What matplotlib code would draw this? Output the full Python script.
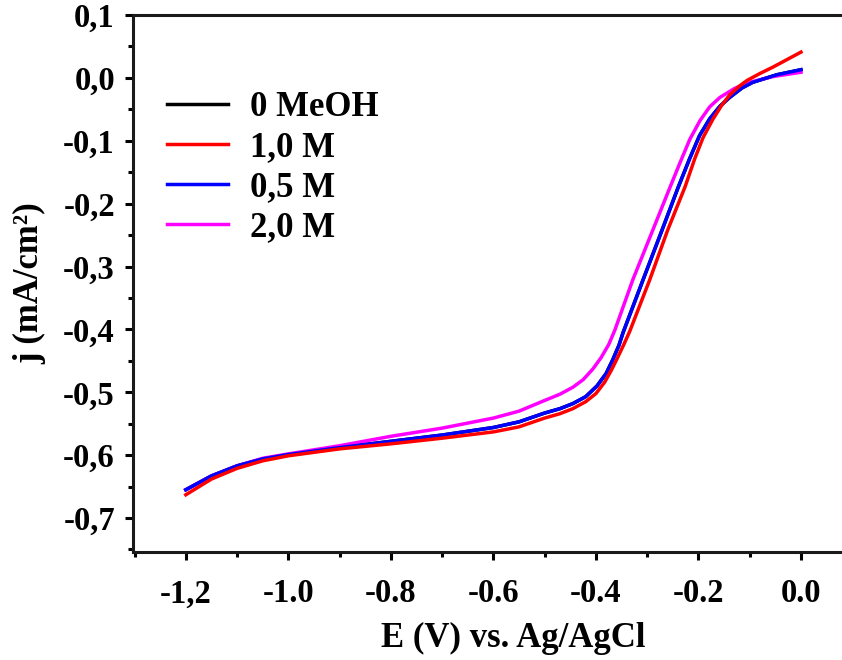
import matplotlib.pyplot as plt
from matplotlib.ticker import FixedLocator, MultipleLocator

plt.rcParams['font.family'] = ['Liberation Serif', 'DejaVu Serif']
plt.rcParams['font.weight'] = 'bold'

# LSV curves: E (V vs Ag/AgCl) and j (mA/cm2)
e_red = [-1.2, -1.15, -1.1, -1.05, -1.0, -0.9, -0.8, -0.7, -0.6, -0.55, -0.5,
         -0.47, -0.445, -0.42, -0.4, -0.383, -0.37, -0.359, -0.345, -0.334,
         -0.295, -0.26, -0.226, -0.207, -0.191, -0.172, -0.155, -0.139, -0.12,
         -0.105, -0.08, -0.055, 0.0]
j_red = [-0.663, -0.638, -0.621, -0.609, -0.601, -0.590, -0.582, -0.573, -0.563,
         -0.555, -0.541, -0.534, -0.526, -0.515, -0.502, -0.484, -0.465, -0.447,
         -0.423, -0.403, -0.321, -0.242, -0.173, -0.128, -0.095, -0.066, -0.044,
         -0.027, -0.013, -0.004, 0.007, 0.017, 0.041]

e_blue = [-1.2, -1.15, -1.1, -1.05, -1.0, -0.9, -0.8, -0.7, -0.6, -0.55, -0.5,
          -0.47, -0.445, -0.42, -0.398, -0.38, -0.367, -0.355, -0.347, -0.308,
          -0.271, -0.24, -0.217, -0.198, -0.178, -0.158, -0.139, -0.115, -0.094,
          -0.047, 0.0]
j_blue = [-0.655, -0.633, -0.617, -0.606, -0.599, -0.588, -0.578, -0.568, -0.556,
          -0.547, -0.533, -0.526, -0.518, -0.507, -0.490, -0.470, -0.448, -0.425,
          -0.405, -0.321, -0.242, -0.175, -0.128, -0.092, -0.065, -0.045, -0.031,
          -0.016, -0.007, 0.005, 0.013]

# the 0 MeOH trace sits under the 0,5 M one in the original
e_black = e_blue
j_black = j_blue

e_mag = [-1.2, -1.15, -1.1, -1.05, -1.0, -0.9, -0.8, -0.7, -0.6, -0.55, -0.5,
         -0.47, -0.445, -0.425, -0.406, -0.39, -0.375, -0.363, -0.328, -0.289,
         -0.256, -0.236, -0.217, -0.197, -0.178, -0.158, -0.13, -0.105, -0.055,
         0.0]
j_mag = [-0.655, -0.633, -0.617, -0.605, -0.598, -0.585, -0.570, -0.557, -0.541,
         -0.530, -0.513, -0.503, -0.492, -0.480, -0.463, -0.445, -0.424, -0.401,
         -0.321, -0.242, -0.175, -0.135, -0.098, -0.068, -0.046, -0.031, -0.017,
         -0.008, 0.002, 0.009]

x_ticks = [-1.2, -1.0, -0.8, -0.6, -0.4, -0.2, 0.0]
x_labels = ['-1,2', '-1.0', '-0.8', '-0.6', '-0.4', '-0.2', '0.0']
y_ticks = [0.1, 0.0, -0.1, -0.2, -0.3, -0.4, -0.5, -0.6, -0.7]
y_labels = ['0,1', '0,0', '-0,1', '-0,2', '-0,3', '-0,4', '-0,5', '-0,6', '-0,7']

fig = plt.figure(figsize=(8.42, 6.6), dpi=100)
# axes runs past the right edge of the picture, like the cropped original
ax = fig.add_axes([133 / 842, 1 - 552 / 660, (893 - 133) / 842, (552 - 15) / 660])

lw = 2.5
ax.plot(e_black, j_black, color='black', lw=lw, label='0 MeOH')
ax.plot(e_mag, j_mag, color='#ff00ff', lw=lw, label='2,0 M', zorder=3)
ax.plot(e_blue, j_blue, color='#0000ff', lw=lw, label='0,5 M', zorder=4)
ax.plot(e_red, j_red, color='#ff0000', lw=lw, label='1,0 M', zorder=5)

ax.set_xlim(-1.303, 0.1795)
ax.set_ylim(-0.754, 0.1)

ax.xaxis.set_major_locator(FixedLocator(x_ticks))
ax.set_xticklabels(x_labels)
ax.xaxis.set_minor_locator(MultipleLocator(0.1))
ax.yaxis.set_major_locator(FixedLocator(y_ticks))
ax.set_yticklabels(y_labels)
ax.yaxis.set_minor_locator(MultipleLocator(0.05))

for side in ['left', 'bottom', 'top']:
    ax.spines[side].set_linewidth(2.2)
    ax.spines[side].set_color('#1a1a1a')
ax.spines['right'].set_visible(False)

ax.tick_params(which='major', direction='out', length=6, width=2.2,
               labelsize=23.5, top=False, right=False)
ax.tick_params(which='minor', direction='out', length=3.5, width=2.2,
               top=False, right=False)
ax.tick_params(axis='y', which='major', pad=7)
ax.tick_params(axis='x', which='major', pad=13)
for lab in ax.get_xticklabels() + ax.get_yticklabels():
    lab.set_fontweight('bold')

ax.set_xlabel('E (V) vs. Ag/AgCl', fontsize=25, fontweight='bold', labelpad=9)
ax.set_ylabel('j (mA/cm²)', fontsize=25, fontweight='bold', labelpad=12)

handles, labels = ax.get_legend_handles_labels()
order = [0, 3, 2, 1]
ax.legend([handles[i] for i in order], [labels[i] for i in order],
          loc='upper left', bbox_to_anchor=(0.0447, 0.858), frameon=False,
          borderaxespad=0, borderpad=0, handlelength=1.76, handletextpad=0.63,
          labelspacing=0.2, prop={'weight': 'bold', 'size': 25})

fig.savefig('out.png', dpi=100)
